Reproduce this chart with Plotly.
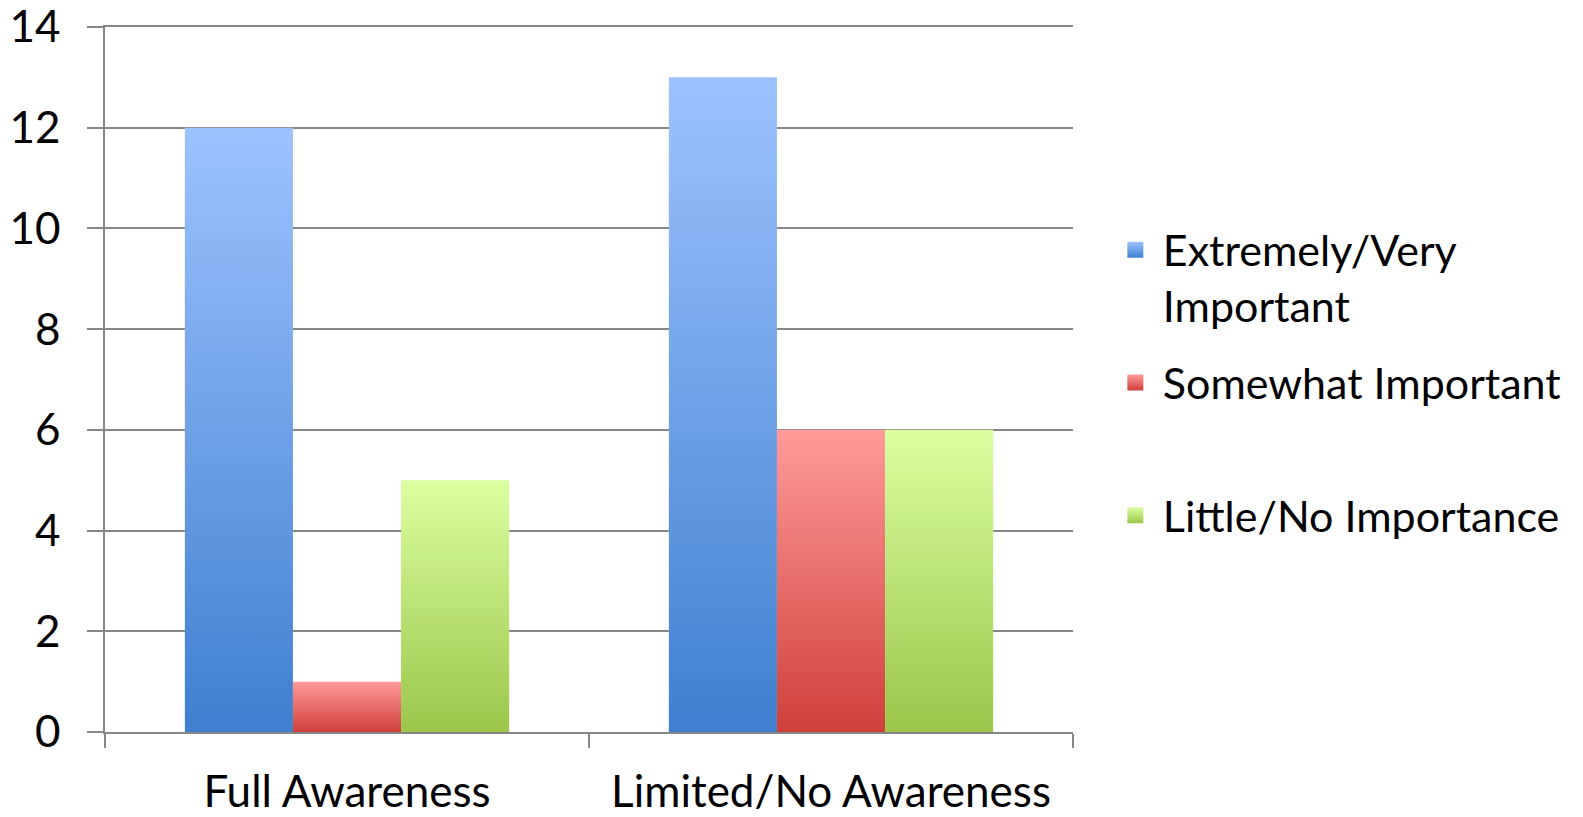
import plotly.graph_objects as go

# ---- data ----
categories = ["Full Awareness", "Limited/No Awareness"]
series_names = ["Extremely/Very<br>Important", "Somewhat Important<br> ", "Little/No Importance"]
extremely_very = [12, 13]
somewhat_important = [1, 6]
little_no_importance = [5, 6]
y_tick_values = [0, 2, 4, 6, 8, 10, 12, 14]

series_values = [extremely_very, somewhat_important, little_no_importance]
top_colors = ["#9DC3FF", "#FF9B99", "#DBFFA0"]
bottom_colors = ["#3F7FCF", "#CF3F3C", "#9BC64A"]

GRAY = "#878787"
FONT = "Lato"
FS = 44
LEG_FS = 43
BAR_GAP = 0.33
n_series = len(series_values)
bar_w = (1 - BAR_GAP) / n_series

fig = go.Figure()

# bars drawn as filled shapes with a vertical gradient (one per bar)
for s, (name, vals) in enumerate(zip(series_names, series_values)):
    clean = name.replace("<br> ", "").replace("<br>", " ")
    for c, v in enumerate(vals):
        x0 = c + (s - n_series / 2) * bar_w
        x1 = x0 + bar_w
        fig.add_trace(go.Scatter(
            x=[x0, x1, x1, x0, x0], y=[0, 0, v, v, 0],
            mode="lines", line=dict(width=0), fill="toself",
            fillgradient=dict(type="vertical",
                              colorscale=[[0, bottom_colors[s]], [1, top_colors[s]]],
                              start=0, stop=v),
            showlegend=False, hoveron="fills", legendgroup=f"g{s}",
            name=clean, text=f"{categories[c]}: {v}", hoverinfo="name+text",
        ))

# legend entries
for s, name in enumerate(series_names):
    fig.add_trace(go.Scatter(
        x=[None], y=[None], mode="markers", name=name, legendgroup=f"g{s}",
        marker=dict(symbol="square", size=16, color=top_colors[s],
                    gradient=dict(type="vertical", color=bottom_colors[s]),
                    line=dict(width=0)),
    ))

fig.update_layout(
    width=1583, height=817,
    margin=dict(l=105, r=510, t=27, b=85),
    paper_bgcolor="white", plot_bgcolor="white",
    font=dict(family=FONT, size=FS, color="black"),
    showlegend=True,
    legend=dict(x=1.036, xanchor="left", y=0.733, yanchor="top",
                valign="top", font=dict(size=LEG_FS, family=FONT),
                tracegroupgap=18, itemwidth=45, bgcolor="rgba(0,0,0,0)"),
    xaxis=dict(
        range=[-0.5, 1.5], tickmode="array", tickvals=[0, 1], ticktext=categories,
        ticks="", showgrid=False, zeroline=False, automargin=False,
        showline=True, mirror=True, linecolor=GRAY, linewidth=1.5,
        minor=dict(tickmode="array", tickvals=[-0.5, 0.5, 1.5], ticks="outside",
                   ticklen=14, tickwidth=1.5, tickcolor=GRAY, showgrid=False),
        ticklabelstandoff=20, ticklabeloverflow="allow",
        tickfont=dict(size=FS, family=FONT),
        fixedrange=True,
    ),
    yaxis=dict(
        range=[0, 14], tickmode="array", tickvals=y_tick_values,
        ticks="outside", ticklen=16, tickwidth=1.5, tickcolor=GRAY,
        showgrid=True, gridcolor=GRAY, gridwidth=1.5, automargin=False,
        showline=True, linecolor=GRAY, linewidth=1.5, zeroline=False,
        ticklabelstandoff=18, ticklabeloverflow="allow",
        tickfont=dict(size=FS, family=FONT),
        fixedrange=True,
    ),
)

fig.write_html("out.html")
